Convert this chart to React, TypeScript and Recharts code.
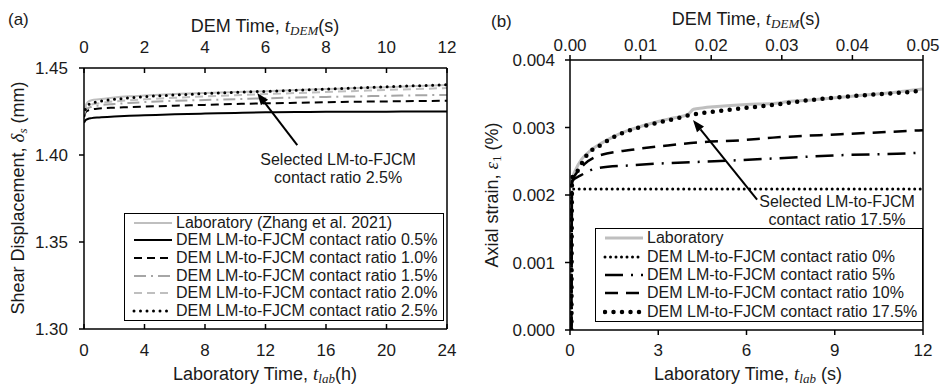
import React from 'react';
import { LineChart, Line, XAxis, YAxis, Legend, ReferenceLine, ReferenceDot } from 'recharts';

const FONT = '"Liberation Sans", Arial, sans-serif';
const MATH = '"Liberation Serif", "DejaVu Serif", serif';
const INK = '#1a1a1a';

// ---------- (a) shear displacement (mm) vs laboratory time (h)
const timeA = [0, 0.1, 0.25, 0.5, 1, 2, 3, 4, 6, 8, 10, 12, 14, 16, 18, 20, 22, 24];
const labA = [1.421, 1.428, 1.4305, 1.4315, 1.432, 1.433, 1.4337, 1.4342, 1.435, 1.4357, 1.4362, 1.4367, 1.4373, 1.4379, 1.4385, 1.439, 1.4396, 1.4402];
const ratio05A = [1.4185, 1.42, 1.4207, 1.4212, 1.4216, 1.4221, 1.4225, 1.4228, 1.4234, 1.4238, 1.4242, 1.4245, 1.4247, 1.4248, 1.4249, 1.4249, 1.425, 1.425];
const ratio10A = [1.4225, 1.4245, 1.4255, 1.4262, 1.4267, 1.4272, 1.4275, 1.4278, 1.4283, 1.4288, 1.4293, 1.4297, 1.43, 1.4303, 1.4306, 1.4308, 1.431, 1.4312];
const ratio15A = [1.423, 1.4255, 1.4268, 1.4277, 1.4285, 1.4293, 1.4299, 1.4304, 1.4311, 1.4316, 1.4321, 1.4326, 1.433, 1.4334, 1.4337, 1.434, 1.4343, 1.4345];
const ratio20A = [1.4235, 1.4265, 1.428, 1.429, 1.4298, 1.4308, 1.4315, 1.432, 1.4329, 1.4337, 1.4344, 1.435, 1.4356, 1.4362, 1.4368, 1.4374, 1.4379, 1.4385];
const ratio25A = [1.4225, 1.4265, 1.4285, 1.4297, 1.4308, 1.432, 1.4328, 1.4335, 1.4345, 1.4353, 1.436, 1.4366, 1.4372, 1.4379, 1.4386, 1.4392, 1.4398, 1.4404];
const namesA = [
  'Laboratory (Zhang et al. 2021)',
  'DEM LM-to-FJCM contact ratio 0.5%',
  'DEM LM-to-FJCM contact ratio 1.0%',
  'DEM LM-to-FJCM contact ratio 1.5%',
  'DEM LM-to-FJCM contact ratio 2.0%',
  'DEM LM-to-FJCM contact ratio 2.5%',
];
const yTicksA = [1.3, 1.35, 1.4, 1.45];
const labTicksA = [0, 4, 8, 12, 16, 20, 24];
const demTicksA = [0, 2, 4, 6, 8, 10, 12];

// ---------- (b) axial strain (%) vs laboratory time (s)
const labTimeB = [0.05, 0.1, 0.2, 0.4, 0.7, 1.0, 1.5, 2.0, 2.5, 3.0, 3.5, 4.0, 4.2, 4.5, 5, 6, 7, 7.5, 8, 9, 10, 11, 12];
const labStrainB = [0.0021, 0.00226, 0.00238, 0.00253, 0.00266, 0.00275, 0.00287, 0.00296, 0.00303, 0.00309, 0.00314, 0.00319, 0.00327, 0.00329, 0.00331, 0.00334, 0.00336, 0.00339, 0.0034, 0.00344, 0.00348, 0.00352, 0.00357];
const r0TimeB = [0.05, 0.06, 12];
const r0StrainB = [0, 0.00209, 0.00209];
const r5TimeB = [0.05, 0.07, 0.4, 0.96, 2.1, 3.2, 4.9, 6.9, 9.2, 11.65, 12];
const r5StrainB = [0, 0.0022, 0.0023, 0.0024, 0.00244, 0.00247, 0.0025, 0.00254, 0.00259, 0.00262, 0.00263];
const r10TimeB = [0.05, 0.07, 0.25, 0.5, 0.96, 2.1, 3.23, 4.36, 5.78, 6.9, 9.2, 12];
const r10StrainB = [0, 0.0022, 0.00234, 0.00246, 0.00258, 0.00267, 0.00273, 0.00278, 0.00281, 0.00285, 0.0029, 0.00296];
const r175TimeB = [0.05, 0.07, 0.23, 0.57, 1.08, 1.63, 2.27, 2.89, 3.57, 4.14, 4.8, 5.78, 7.0, 8.04, 9.74, 11.6, 12];
const r175StrainB = [0, 0.00225, 0.00234, 0.00259, 0.00275, 0.00289, 0.00299, 0.00306, 0.00313, 0.00319, 0.00323, 0.00328, 0.00334, 0.0034, 0.00347, 0.00353, 0.00355];
const namesB = [
  'Laboratory',
  'DEM LM-to-FJCM contact ratio 0%',
  'DEM LM-to-FJCM contact ratio 5%',
  'DEM LM-to-FJCM contact ratio 10%',
  'DEM LM-to-FJCM contact ratio 17.5%',
];
const yTicksB = [0, 0.001, 0.002, 0.003, 0.004];
const labTicksB = [0, 3, 6, 9, 12];
const demTicksB = [0, 0.01, 0.02, 0.03, 0.04, 0.05];

type Style = { stroke: string; width: number; dash?: string; cap?: 'round' | 'butt' };

const stylesA: Style[] = [
  { stroke: '#bfbfbf', width: 2 },
  { stroke: '#000', width: 2 },
  { stroke: '#000', width: 2, dash: '8 5' },
  { stroke: '#a6a6a6', width: 2, dash: '12 5 2 5' },
  { stroke: '#bfbfbf', width: 2, dash: '8 5' },
  { stroke: '#000', width: 3, dash: '0 6.5', cap: 'round' },
];
const stylesB: Style[] = [
  { stroke: '#bfbfbf', width: 3 },
  { stroke: '#000', width: 3, dash: '0 5.5', cap: 'round' },
  { stroke: '#000', width: 2.5, dash: '18 8 2 8' },
  { stroke: '#000', width: 2.5, dash: '13 8' },
  { stroke: '#000', width: 4.5, dash: '0 8.5', cap: 'round' },
];

const tableA = timeA.map((t, i) => ({
  t, lab: labA[i], r05: ratio05A[i], r10: ratio10A[i], r15: ratio15A[i], r20: ratio20A[i], r25: ratio25A[i],
}));
const zip = (ts: number[], vs: number[]) => ts.map((t, i) => ({ t, v: vs[i] }));
const seriesB = [
  zip(labTimeB, labStrainB),
  zip(r0TimeB, r0StrainB),
  zip(r5TimeB, r5StrainB),
  zip(r10TimeB, r10StrainB),
  zip(r175TimeB, r175StrainB),
];
// rows for the secondary (DEM time) axis of panel (b)
const demRowsB = demTicksB.map((dem) => ({ dem }));

const LegendBox = ({ names, styles, rowH }: { names: string[]; styles: Style[]; rowH: number }) => (
  <div style={{ border: '1.5px solid #000', background: '#fff', padding: '0 0 0 7px', fontFamily: FONT, fontSize: 16, color: INK }}>
    {names.map((n, i) => (
      <div key={n} style={{ display: 'flex', alignItems: 'center', height: rowH, whiteSpace: 'nowrap' }}>
        <svg width={40} height={10} style={{ marginRight: 4, flex: 'none' }}>
          <line x1={2} y1={5} x2={40} y2={5} stroke={styles[i].stroke} strokeWidth={styles[i].width}
            strokeDasharray={styles[i].dash} strokeLinecap={styles[i].cap ?? 'butt'} />
        </svg>
        <span>{n}</span>
      </div>
    ))}
  </div>
);

const Arrow = (p: any) => {
  const { x1, y1, x2, y2 } = p;
  const a = Math.atan2(y2 - y1, x2 - x1);
  const L = 12, W = 4.5;
  const bx = x2 - L * Math.cos(a), by = y2 - L * Math.sin(a);
  const px = -Math.sin(a) * W, py = Math.cos(a) * W;
  return (
    <g>
      <line x1={x1} y1={y1} x2={bx} y2={by} stroke="#000" strokeWidth={2} />
      <polygon points={`${x2},${y2} ${bx + px},${by + py} ${bx - px},${by - py}`} fill="#000" />
    </g>
  );
};

const note = (lines: string[]) => (p: any) => (
  <text x={p.cx} y={p.cy} textAnchor="middle" fontFamily={FONT} fontSize={16} fill={INK}>
    {lines.map((l, i) => (
      <tspan key={i} x={p.cx} dy={i === 0 ? 0 : 18}>{l}</tspan>
    ))}
  </text>
);

const tickStyle = { fontSize: 17, fill: INK, fontFamily: FONT };
const axisStroke = { stroke: '#000', strokeWidth: 1.5 };

const Title = ({ x, y, pre, sym, sub, post, rotate, subUpright }: any) => (
  <text x={x} y={y} textAnchor="middle" fontFamily={FONT} fontSize={18} fill={INK}
    transform={rotate ? `rotate(-90 ${x} ${y})` : undefined}>
    {pre}
    <tspan fontFamily={MATH} fontStyle="italic" fontSize={19}>{sym}</tspan>
    <tspan fontFamily={MATH} fontStyle={subUpright ? 'normal' : 'italic'} fontSize={13} dy={3}>{sub}</tspan>
    <tspan dy={-3}>{post}</tspan>
  </text>
);

function PanelA() {
  const keys = ['lab', 'r05', 'r10', 'r15', 'r20', 'r25'];
  return (
    <LineChart width={470} height={387} data={tableA} margin={{ top: 38, right: 22, bottom: 28, left: 24 }}
      style={{ fontFamily: FONT }}>
      <XAxis dataKey="t" type="number" domain={[0, 24]} ticks={labTicksA} height={30} allowDataOverflow
        tick={tickStyle} tickSize={-5} tickMargin={20} axisLine={axisStroke} tickLine={axisStroke} />
      <XAxis xAxisId="dem" dataKey="t" orientation="top" type="number" domain={[0, 12]} ticks={demTicksA} height={30}
        allowDataOverflow tick={tickStyle} tickSize={-5} tickMargin={20} axisLine={axisStroke} tickLine={axisStroke} />
      <YAxis type="number" domain={[1.3, 1.45]} ticks={yTicksA} width={60} tick={tickStyle} allowDataOverflow
        tickFormatter={(v: number) => v.toFixed(2)} tickSize={5} tickMargin={11} axisLine={axisStroke} tickLine={axisStroke} />
      <YAxis yAxisId="frame" orientation="right" type="number" domain={[0, 1]} width={1} allowDataOverflow
        tick={false} tickLine={false} axisLine={axisStroke} />
      {keys.map((k, i) => (
        <Line key={k} dataKey={k} name={namesA[i]} type="monotone" dot={false} isAnimationActive={false}
          stroke={stylesA[i].stroke} strokeWidth={stylesA[i].width} strokeDasharray={stylesA[i].dash}
          strokeLinecap={stylesA[i].cap ?? 'butt'} />
      ))}
      <ReferenceLine segment={[{ x: 14.1, y: 1.4057 }, { x: 11.45, y: 1.4357 }]} shape={Arrow} ifOverflow="visible" />
      <ReferenceDot x={16.8} y={1.3945} r={0} ifOverflow="visible"
        shape={note(['Selected LM-to-FJCM', 'contact ratio 2.5%'])} />
      <Legend layout="horizontal" verticalAlign="middle" align="center"
        wrapperStyle={{ left: 124, top: 213, width: 320, height: 107 }}
        content={() => <LegendBox names={namesA} styles={stylesA} rowH={17.6} />} />
      <text x={8} y={25} fontFamily={FONT} fontSize={17} fill={INK}>(a)</text>
      <Title x={265} y={32} pre="DEM Time, " sym="t" sub="DEM" post="(s)" />
      <Title x={265} y={380} pre="Laboratory Time, " sym="t" sub="lab" post="(h)" />
      <Title x={24} y={198} pre="Shear Displacement, " sym="δ" sub="s" post=" (mm)" rotate />
    </LineChart>
  );
}

function PanelB() {
  return (
    <LineChart width={472} height={387} data={demRowsB} margin={{ top: 30, right: 18, bottom: 27, left: 40 }}
      style={{ fontFamily: FONT }}>
      <XAxis dataKey="t" type="number" domain={[0, 12]} ticks={labTicksB} height={30} allowDataOverflow
        tick={tickStyle} tickSize={5} tickMargin={9} axisLine={axisStroke} tickLine={axisStroke} />
      <XAxis xAxisId="dem" dataKey="dem" orientation="top" type="number" domain={[0, 0.05]} ticks={demTicksB} height={30}
        allowDataOverflow tick={tickStyle} tickFormatter={(v: number) => v.toFixed(2)} tickSize={5} tickMargin={4}
        axisLine={axisStroke} tickLine={axisStroke} />
      <YAxis type="number" domain={[0, 0.004]} ticks={yTicksB} width={60} tick={tickStyle} allowDataOverflow
        tickFormatter={(v: number) => v.toFixed(3)} tickSize={5} tickMargin={10} axisLine={axisStroke} tickLine={axisStroke} />
      <YAxis yAxisId="frame" orientation="right" type="number" domain={[0, 1]} width={1} allowDataOverflow
        tick={false} tickLine={false} axisLine={axisStroke} />
      {seriesB.map((d, i) => (
        <Line key={namesB[i]} data={d} dataKey="v" name={namesB[i]} type="monotone" dot={false} isAnimationActive={false}
          stroke={stylesB[i].stroke} strokeWidth={stylesB[i].width} strokeDasharray={stylesB[i].dash}
          strokeLinecap={stylesB[i].cap ?? 'butt'} />
      ))}
      <ReferenceLine segment={[{ x: 6.36, y: 0.00193 }, { x: 4.18, y: 0.00311 }]} shape={Arrow} ifOverflow="visible" />
      <ReferenceDot x={9.08} y={0.00182} r={0} ifOverflow="visible"
        shape={note(['Selected LM-to-FJCM', 'contact ratio 17.5%'])} />
      <Legend layout="horizontal" verticalAlign="middle" align="center"
        wrapperStyle={{ left: 125, top: 228, width: 328, height: 93 }}
        content={() => <LegendBox names={namesB} styles={stylesB} rowH={18.4} />} />
      <text x={21} y={27} fontFamily={FONT} fontSize={17} fill={INK}>(b)</text>
      <Title x={276} y={25} pre="DEM Time, " sym="t" sub="DEM" post="(s)" />
      <Title x={278} y={380} pre="Laboratory Time, " sym="t" sub="lab" post=" (s)" />
      <Title x={28} y={195} pre="Axial strain, " sym="ε" sub="1" post=" (%)" rotate subUpright />
    </LineChart>
  );
}

export default function App() {
  return (
    <div style={{ position: 'absolute', left: 0, top: 0, width: 942, height: 387, background: '#fff', display: 'flex' }}>
      <PanelA />
      <PanelB />
    </div>
  );
}
